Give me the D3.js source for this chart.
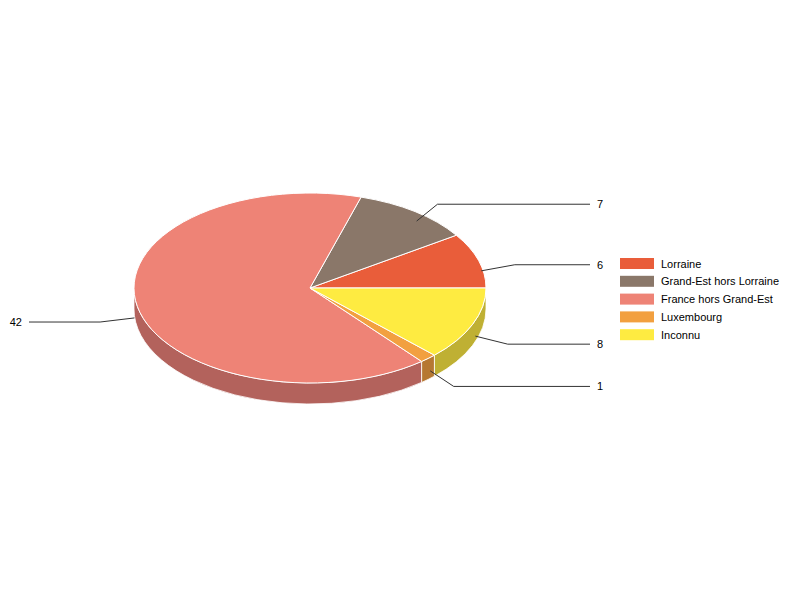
<!DOCTYPE html>
<html>
<head>
  <meta charset="UTF-8">
  <style>
    body { margin: 0; background: #fff; }
    text { font-family: Arial, "Liberation Sans", sans-serif; font-size: 11px; fill: #000; }
  </style>
</head>
<body>
<svg></svg>
<script src="https://d3js.org/d3.v7.min.js"></script>
<script>

let width = 800, height = 600;

// data
let categories = ["Lorraine", "Grand-Est hors Lorraine", "France hors Grand-Est", "Luxembourg", "Inconnu"];
let values = [6, 7, 42, 1, 8];
let colors = ["#e95d3a", "#8a7769", "#ee8376", "#f2a040", "#feeb41"];

let svg = d3.select("svg")
    .attr("width", width)
    .attr("height", height)
    .attr("viewBox", "0 0 " + width + " " + height);

let cx = 310, cy = 288, rx = 176, ry = 95, depth = 21;

let color = d3.scaleOrdinal().domain(categories).range(colors);

// shade for the side walls
function shade(c) {
    let r = d3.rgb(c);
    return d3.rgb(r.r * 0.75, r.g * 0.75, r.b * 0.78);
}

// pie angles clockwise from 12 o'clock -> go counterclockwise from 3 o'clock
let pie = d3.pie().sort(null).value(d => d.value)
    .startAngle(Math.PI / 2)
    .endAngle(Math.PI / 2 - 2 * Math.PI);

let slices = pie(categories.map((c, i) => ({ name: c, value: values[i] })))
    .map(d => {
        d.t0 = Math.PI / 2 - d.startAngle;
        d.t1 = Math.PI / 2 - d.endAngle;
        d.mid = (d.t0 + d.t1) / 2;
        return d;
    });

function pt(t, ax, ay, dy) {
    return [cx + ax * Math.cos(t), cy - ay * Math.sin(t) + (dy || 0)];
}

// side walls (front half only)
let sides = svg.append("g").attr("id", "sides");
slices.forEach(d => {
    let a = Math.max(d.t0, Math.PI), b = Math.min(d.t1, 2 * Math.PI);
    if (b <= a) return;
    let p0 = pt(a, rx, ry), p1 = pt(b, rx, ry);
    let q0 = pt(a, rx, ry, depth), q1 = pt(b, rx, ry, depth);
    let large = (b - a) > Math.PI ? 1 : 0;
    let path = "M" + p0 + " A" + rx + "," + ry + " 0 " + large + " 0 " + p1 +
        " L" + q1 + " A" + rx + "," + ry + " 0 " + large + " 1 " + q0 + " Z";
    sides.append("path")
        .attr("d", path)
        .attr("fill", shade(color(d.data.name)))
        .attr("stroke", "#fff")
        .attr("stroke-width", 0.8);
});

// top faces
svg.append("g").attr("id", "tops")
    .selectAll("path")
    .data(slices)
    .enter()
    .append("path")
    .attr("d", d => {
        let p0 = pt(d.t0, rx, ry), p1 = pt(d.t1, rx, ry);
        let large = (d.t1 - d.t0) > Math.PI ? 1 : 0;
        return "M" + cx + "," + cy + " L" + p0 + " A" + rx + "," + ry + " 0 " + large + " 0 " + p1 + " Z";
    })
    .attr("fill", d => color(d.data.name))
    .attr("stroke", "#fff")
    .attr("stroke-width", 1);

// labels with leader lines
let labels = svg.append("g").attr("id", "labels");
slices.forEach(d => {
    let a = pt(d.mid, rx + 3, ry + 2, 11);
    let e = pt(d.mid, rx + 38, ry + 23, 11);
    let right = Math.cos(d.mid) >= 0;
    let endX = right ? 590 : 29;
    labels.append("path")
        .attr("d", "M" + a + " L" + e + " L" + endX + "," + e[1])
        .attr("fill", "none")
        .attr("stroke", "#333")
        .attr("stroke-width", 1);
    labels.append("text")
        .attr("x", right ? endX + 7 : endX - 7)
        .attr("y", e[1] + 4)
        .attr("text-anchor", right ? "start" : "end")
        .text(d.data.value);
});

// legend
let legend = svg.append("g")
    .attr("id", "legend")
    .attr("transform", "translate(620,258)");

let row = legend.selectAll("g")
    .data(categories)
    .enter()
    .append("g")
    .attr("transform", (d, i) => "translate(0," + (i * 17.8) + ")");

row.append("rect")
    .attr("width", 34)
    .attr("height", 11)
    .attr("fill", d => color(d));

row.append("text")
    .attr("x", 41)
    .attr("y", 9.5)
    .text(d => d);

</script>
</body>
</html>
